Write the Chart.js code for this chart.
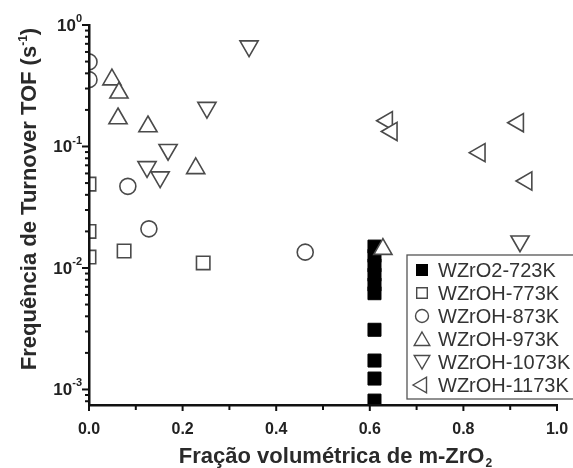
<!DOCTYPE html>
<html>
<head>
<meta charset="utf-8">
<script src="https://cdn.jsdelivr.net/npm/chart.js@4.4.1/dist/chart.umd.min.js"></script>
<style>
  html, body { margin: 0; padding: 0; background: #fff; }
  canvas { display: block; }
</style>
</head>
<body>
<canvas id="tof-chart" width="573" height="468"></canvas>
<script>
// séries: fração volumétrica de m-ZrO2 (x) e TOF em s^-1 (y)
const wzro2_723_x = [0.61, 0.61, 0.61, 0.61, 0.61, 0.61, 0.61, 0.61, 0.61, 0.61];
const wzro2_723_y = [0.0150, 0.0126, 0.0105, 0.0088, 0.0073, 0.0062, 0.0031, 0.00173, 0.00123, 0.00081];
const wzroh_773_x = [0, 0, 0, 0.075, 0.244];
const wzroh_773_y = [0.049, 0.020, 0.0123, 0.0138, 0.011];
const wzroh_873_x = [0, 0, 0.083, 0.128, 0.462];
const wzroh_873_y = [0.497, 0.355, 0.047, 0.021, 0.0135];
const wzroh_973_x = [0.049, 0.064, 0.062, 0.126, 0.228, 0.628];
const wzroh_973_y = [0.355, 0.277, 0.170, 0.146, 0.066, 0.0143];
const wzroh_1073_x = [0.342, 0.252, 0.169, 0.124, 0.152, 0.921];
const wzroh_1073_y = [0.67, 0.209, 0.094, 0.068, 0.056, 0.0166];
const wzroh_1173_x = [0.637, 0.647, 0.917, 0.835, 0.935];
const wzroh_1173_y = [0.163, 0.133, 0.157, 0.089, 0.052];

const seriesNames = ['WZrO2-723K', 'WZrOH-773K', 'WZrOH-873K', 'WZrOH-973K', 'WZrOH-1073K', 'WZrOH-1173K'];
const xTickLabels = ['0.0', '0.2', '0.4', '0.6', '0.8', '1.0'];
const yTickExponents = [0, -1, -2, -3];

const FONT = '"Liberation Sans", Arial, sans-serif';
const EDGE = '#4a4a4a';

function pts(xs, ys) {
    return xs.map((x, i) => ({ x: x, y: ys[i] }));
}

// estilos dos marcadores (mesma ordem dos nomes)
const markers = [
    { style: 'rect', rot: 0, r: 9.2, fill: '#000', edge: '#000' },
    { style: 'rect', rot: 0, r: 9.5, fill: '#fff', edge: EDGE },
    { style: 'circle', rot: 0, r: 8, fill: '#fff', edge: EDGE },
    { style: 'triangle', rot: 0, r: 10.5, fill: '#fff', edge: EDGE },
    { style: 'triangle', rot: 180, r: 10.5, fill: '#fff', edge: EDGE },
    { style: 'triangle', rot: 270, r: 10.5, fill: '#fff', edge: EDGE }
];
const seriesData = [
    pts(wzro2_723_x, wzro2_723_y),
    pts(wzroh_773_x, wzroh_773_y),
    pts(wzroh_873_x, wzroh_873_y),
    pts(wzroh_973_x, wzroh_973_y),
    pts(wzroh_1073_x, wzroh_1073_y),
    pts(wzroh_1173_x, wzroh_1173_y)
];

const datasets = seriesNames.map((name, i) => ({
    label: name,
    data: seriesData[i],
    pointStyle: markers[i].style,
    rotation: markers[i].rot,
    pointRadius: markers[i].r,
    pointHoverRadius: markers[i].r,
    backgroundColor: markers[i].fill,
    borderColor: markers[i].edge,
    borderWidth: i === 0 ? 1 : 1.6,
    order: i === 0 ? 10 : 6 - i,
    clip: 0
}));

// desenha um marcador no canvas (usado na legenda)
function drawMarker(ctx, m, x, y, r) {
    ctx.save();
    ctx.translate(x, y);
    ctx.rotate(m.rot * Math.PI / 180);
    ctx.beginPath();
    if (m.style === 'rect') {
        const s = r * Math.SQRT1_2;
        ctx.rect(-s, -s, 2 * s, 2 * s);
    } else if (m.style === 'circle') {
        ctx.arc(0, 0, r, 0, Math.PI * 2);
    } else {
        ctx.moveTo(0, -r);
        ctx.lineTo(r * Math.sin(Math.PI * 2 / 3), -r * Math.cos(Math.PI * 2 / 3));
        ctx.lineTo(r * Math.sin(Math.PI * 4 / 3), -r * Math.cos(Math.PI * 4 / 3));
        ctx.closePath();
    }
    ctx.fillStyle = m.fill;
    ctx.fill();
    ctx.lineWidth = 1.4;
    ctx.strokeStyle = m.edge;
    ctx.stroke();
    ctx.restore();
}

const decorPlugin = {
    id: 'decor',
    afterDraw(chart) {
        const ctx = chart.ctx;
        const area = chart.chartArea;
        const xs = chart.scales.x;
        const ys = chart.scales.y;
        ctx.save();
        ctx.strokeStyle = '#111';
        ctx.lineWidth = 2;

        // marcas do eixo y (log)
        for (let e = -4; e <= 0; e++) {
            for (let k = 1; k <= 9; k++) {
                const v = k * Math.pow(10, e);
                if (v < ys.min || v > ys.max * 1.0001) continue;
                const py = ys.getPixelForValue(v);
                const len = k === 1 ? 7 : 4;
                ctx.beginPath();
                ctx.moveTo(area.left - len, py);
                ctx.lineTo(area.left, py);
                ctx.stroke();
            }
        }
        // marcas do eixo x
        for (let i = 0; i <= 10; i++) {
            const px = xs.getPixelForValue(i / 10);
            const len = i % 2 === 0 ? 6 : 5;
            ctx.beginPath();
            ctx.moveTo(px, area.bottom);
            ctx.lineTo(px, area.bottom + len);
            ctx.stroke();
        }

        // rótulos do eixo y: 10 com expoente
        ctx.fillStyle = '#222';
        ctx.textBaseline = 'middle';
        yTickExponents.forEach(e => {
            const py = ys.getPixelForValue(Math.pow(10, e));
            ctx.font = 'bold 11px ' + FONT;
            ctx.textAlign = 'right';
            const expText = String(e);
            ctx.fillText(expText, 82, py - 6);
            const ew = ctx.measureText(expText).width;
            ctx.font = 'bold 17px ' + FONT;
            ctx.fillText('10', 82 - ew, py + 1);
        });

        // título do eixo x
        ctx.fillStyle = '#2a2a2a';
        ctx.textAlign = 'left';
        ctx.textBaseline = 'alphabetic';
        ctx.font = 'bold 22px ' + FONT;
        const xt = 'Fração volumétrica de m-ZrO';
        const xtw = ctx.measureText(xt).width;
        ctx.font = 'bold 12px ' + FONT;
        const subw = ctx.measureText('2').width;
        const x0 = 335 - (xtw + subw) / 2;
        ctx.font = 'bold 22px ' + FONT;
        ctx.fillText(xt, x0, 463);
        ctx.font = 'bold 12px ' + FONT;
        ctx.fillText('2', x0 + xtw + 1, 467);

        // título do eixo y
        ctx.save();
        ctx.translate(36, 199);
        ctx.rotate(-Math.PI / 2);
        ctx.font = 'bold 22px ' + FONT;
        const yt1 = 'Frequência de Turnover TOF (s';
        const w1 = ctx.measureText(yt1).width;
        ctx.font = 'bold 12px ' + FONT;
        const w2 = ctx.measureText('-1').width;
        ctx.font = 'bold 22px ' + FONT;
        const w3 = ctx.measureText(')').width;
        const start = -(w1 + w2 + w3) / 2;
        ctx.fillText(yt1, start, 0);
        ctx.font = 'bold 12px ' + FONT;
        ctx.fillText('-1', start + w1, -9);
        ctx.font = 'bold 22px ' + FONT;
        ctx.fillText(')', start + w1 + w2, 0);
        ctx.restore();

        // legenda
        const lx = 407, ly = 255, lw = 170, lh = 144;
        ctx.fillStyle = '#fff';
        ctx.fillRect(lx, ly, lw, lh);
        ctx.strokeStyle = '#555';
        ctx.lineWidth = 1.3;
        ctx.strokeRect(lx, ly, lw, lh);
        ctx.font = '20px ' + FONT;
        ctx.textBaseline = 'middle';
        ctx.textAlign = 'left';
        seriesNames.forEach((name, i) => {
            const cy = ly + 15 + i * 23;
            const m = markers[i];
            const r = m.style === 'rect' ? 7.5 : (m.style === 'circle' ? 6.5 : 9);
            const dy = m.style === 'triangle' && m.rot === 0 ? 2 : (m.rot === 180 ? -2 : 0);
            drawMarker(ctx, m, lx + 15, cy + dy, r);
            ctx.fillStyle = '#333';
            ctx.fillText(name, lx + 31, cy + 1);
        });
        ctx.restore();
    }
};

new Chart(document.getElementById('tof-chart'), {
    type: 'scatter',
    data: { datasets: datasets },
    plugins: [decorPlugin],
    options: {
        responsive: false,
        animation: false,
        events: [],
        layout: { padding: { top: 25, right: 16, bottom: 0, left: 0 } },
        plugins: {
            legend: { display: false },
            tooltip: { enabled: false },
            title: { display: false }
        },
        scales: {
            x: {
                type: 'linear',
                min: 0,
                max: 1,
                grid: { display: false, drawTicks: false, tickLength: 0 },
                border: { display: true, color: '#111', width: 2.5, z: 1 },
                ticks: {
                    stepSize: 0.1,
                    autoSkip: false,
                    maxRotation: 0,
                    padding: 15,
                    color: '#222',
                    font: { family: FONT, size: 16, weight: 'bold' },
                    callback: (v, i) => (i % 2 === 0 ? xTickLabels[i / 2] : '')
                },
                afterFit: scale => {
                    scale.height = 63;
                    scale.paddingLeft = 0;
                    scale.paddingRight = 0;
                }
            },
            y: {
                type: 'logarithmic',
                min: 7.45e-4,
                max: 1,
                grid: { display: false, drawTicks: false },
                border: { display: true, color: '#111', width: 2.5, z: 1 },
                ticks: { display: false },
                afterFit: scale => { scale.width = 89; }
            }
        }
    }
});
</script>
</body>
</html>
